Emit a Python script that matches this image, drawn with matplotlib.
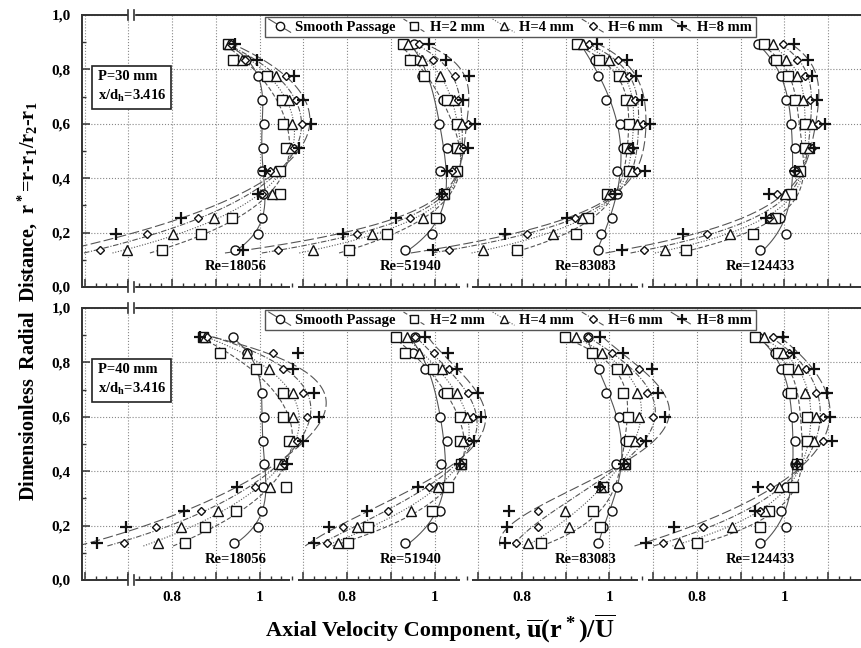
import numpy as np
import matplotlib
matplotlib.use('Agg')
import matplotlib.pyplot as plt
from matplotlib.lines import Line2D
from matplotlib.legend_handler import HandlerLine2D

plt.rcParams['font.family'] = 'Liberation Serif'
plt.rcParams['font.weight'] = 'bold'
plt.rcParams['mathtext.fontset'] = 'custom'
plt.rcParams['mathtext.rm'] = 'Liberation Serif:bold'
plt.rcParams['mathtext.it'] = 'Liberation Serif:bold'
plt.rcParams['mathtext.bf'] = 'Liberation Serif:bold'

# measurement stations (dimensionless radial distance), top to bottom
r_star = [0.892, 0.833, 0.774, 0.687, 0.598, 0.510, 0.425, 0.341, 0.252, 0.195, 0.136]
reynolds = ['Re=18056', 'Re=51940', 'Re=83083', 'Re=124433']
series_names = ['Smooth Passage', 'H=2 mm', 'H=4 mm', 'H=6 mm', 'H=8 mm']

# u(r*)/U, one row per Reynolds number -- rib pitch P=30 mm
p30_smooth = [[0.930, 0.970, 0.997, 1.005, 1.010, 1.008, 1.005, 1.008, 1.005, 0.996, 0.944],
              [0.953, 0.960, 0.972, 1.019, 1.010, 1.028, 1.013, 1.020, 1.013, 0.994, 0.933],
              [0.930, 0.967, 0.974, 0.992, 1.024, 1.031, 1.017, 1.018, 1.005, 0.981, 0.974],
              [0.939, 0.974, 0.992, 1.003, 1.016, 1.024, 1.022, 1.006, 0.990, 1.003, 0.944]]
p30_h2 = [[0.928, 0.940, 1.017, 1.051, 1.054, 1.061, 1.047, 1.047, 0.937, 0.866, 0.777],
          [0.927, 0.944, 0.976, 1.028, 1.052, 1.051, 1.052, 1.022, 1.003, 0.891, 0.805],
          [0.926, 0.976, 1.022, 1.038, 1.045, 1.040, 1.045, 0.994, 0.951, 0.923, 0.789],
          [0.953, 0.981, 1.009, 1.024, 1.047, 1.047, 1.035, 1.016, 0.979, 0.928, 0.775]]
p30_h4 = [[0.930, 0.959, 1.038, 1.067, 1.074, 1.072, 1.035, 1.028, 0.896, 0.803, 0.697],
          [0.940, 0.971, 1.013, 1.044, 1.063, 1.057, 1.048, 1.020, 0.974, 0.857, 0.722],
          [0.939, 0.999, 1.033, 1.049, 1.062, 1.045, 1.052, 0.998, 0.937, 0.870, 0.710],
          [0.974, 1.003, 1.028, 1.042, 1.063, 1.055, 1.030, 1.001, 0.971, 0.876, 0.727]]
p30_h6 = [[0.935, 0.966, 1.061, 1.083, 1.097, 1.078, 1.024, 1.005, 0.860, 0.742, 0.635],
          [0.965, 0.997, 1.047, 1.054, 1.077, 1.066, 1.040, 1.018, 0.944, 0.823, 0.642],
          [0.953, 1.019, 1.045, 1.058, 1.077, 1.050, 1.064, 1.005, 0.921, 0.811, 0.634],
          [0.997, 1.029, 1.047, 1.058, 1.077, 1.062, 1.027, 0.983, 0.965, 0.823, 0.679]]
p30_h8 = [[0.944, 0.994, 1.079, 1.099, 1.118, 1.090, 1.013, 0.996, 0.820, 0.672, 0.570],
          [0.988, 1.026, 1.079, 1.065, 1.092, 1.077, 1.029, 1.016, 0.912, 0.791, 0.562],
          [0.971, 1.040, 1.061, 1.074, 1.092, 1.053, 1.082, 1.012, 0.903, 0.761, 0.597],
          [1.022, 1.053, 1.064, 1.074, 1.093, 1.067, 1.024, 0.965, 0.958, 0.768, 0.629]]

# rib pitch P=40 mm
p40_smooth = [[0.940, 0.971, 0.992, 1.005, 1.010, 1.008, 1.011, 1.008, 1.005, 0.996, 0.942],
              [0.955, 0.950, 0.979, 1.020, 1.012, 1.028, 1.014, 1.010, 1.012, 0.994, 0.933],
              [0.951, 0.960, 0.976, 0.992, 1.022, 1.035, 1.015, 1.017, 1.006, 0.985, 0.974],
              [0.940, 0.979, 0.992, 1.005, 1.019, 1.024, 1.025, 1.003, 0.992, 1.003, 0.944]]
p40_h2 = [[0.871, 0.910, 0.992, 1.054, 1.053, 1.068, 1.045, 1.061, 0.946, 0.875, 0.830],
          [0.912, 0.933, 0.997, 1.028, 1.058, 1.058, 1.060, 1.031, 0.994, 0.848, 0.802],
          [0.898, 0.960, 1.017, 1.031, 1.043, 1.045, 1.035, 0.985, 0.962, 0.978, 0.843],
          [0.933, 0.985, 1.009, 1.016, 1.051, 1.051, 1.028, 1.019, 0.965, 0.944, 0.800]]
p40_h4 = [[0.875, 0.971, 1.022, 1.077, 1.077, 1.077, 1.050, 1.024, 0.906, 0.820, 0.767],
          [0.937, 0.965, 1.017, 1.052, 1.074, 1.066, 1.060, 1.008, 0.946, 0.822, 0.780],
          [0.923, 0.982, 1.040, 1.062, 1.068, 1.058, 1.035, 0.980, 0.898, 0.907, 0.813],
          [0.953, 0.996, 1.031, 1.047, 1.072, 1.067, 1.028, 0.988, 0.955, 0.880, 0.759]]
p40_h6 = [[0.880, 1.030, 1.053, 1.099, 1.108, 1.086, 1.055, 0.990, 0.866, 0.763, 0.690],
          [0.955, 0.999, 1.034, 1.077, 1.088, 1.079, 1.060, 0.987, 0.894, 0.791, 0.754],
          [0.950, 1.005, 1.067, 1.086, 1.099, 1.070, 1.035, 0.978, 0.836, 0.836, 0.786],
          [0.974, 1.010, 1.050, 1.072, 1.087, 1.087, 1.028, 0.967, 0.945, 0.814, 0.722]]
p40_h8 = [[0.864, 1.087, 1.077, 1.125, 1.136, 1.100, 1.063, 0.949, 0.828, 0.695, 0.629],
          [0.978, 1.031, 1.052, 1.099, 1.106, 1.090, 1.058, 0.962, 0.846, 0.759, 0.724],
          [0.978, 1.031, 1.097, 1.111, 1.127, 1.083, 1.033, 0.978, 0.770, 0.766, 0.761],
          [0.997, 1.022, 1.067, 1.097, 1.104, 1.108, 1.028, 0.940, 0.933, 0.748, 0.683]]

# each Reynolds block is shifted 0.4 along the shared x axis
shift = 0.4
x_left, x_right = 0.594, 2.375

markers = ['o', 's', '^', 'D', '+']
msizes = [6.5, 6.5, 6.5, 4.5, 8]
styles = ['-', (0, (4, 2)), (0, (1, 1.5)), (0, (5, 1.5, 1, 1.5)), (0, (9, 3))]
line_col = '#555555'


class SlantHandler(HandlerLine2D):
    # legend key: slanted line with the marker in the middle
    def create_artists(self, legend, orig_handle, xdescent, ydescent,
                       width, height, fontsize, trans):
        x0, x1 = -xdescent, -xdescent + width
        y0, y1 = -ydescent, -ydescent + height
        seg = Line2D([x0, x1], [y1 + 0.15 * height, y0 - 0.15 * height])
        self.update_prop(seg, orig_handle, legend)
        seg.set_marker('None')
        seg.set_transform(trans)
        mk = Line2D([(x0 + x1) / 2], [(y0 + y1) / 2])
        self.update_prop(mk, orig_handle, legend)
        mk.set_linestyle('None')
        mk.set_transform(trans)
        return [seg, mk]


def draw_panel(ax, data, pitch, xlabels):
    yy = np.linspace(0.125, 0.895, 200)
    handles = []
    for s, rows in enumerate(data):
        for k, vals in enumerate(rows):
            off = shift * k
            # smooth least-squares curve x(r*) through each profile
            coef = np.polyfit(r_star, vals, 4)
            ax.plot(np.polyval(coef, yy) + off, yy, color=line_col, lw=0.8,
                    linestyle=styles[s], zorder=2)
            ax.plot(np.array(vals) + off, r_star, linestyle='none', marker=markers[s],
                    ms=msizes[s], mfc='white', mec='#111111', mew=1.6 if s == 4 else 1.0,
                    zorder=3)
        handles.append(Line2D([], [], color=line_col, lw=0.8, linestyle=styles[s],
                              marker=markers[s], ms=msizes[s] - 0.5, mfc='white',
                              mec='#111111', mew=1.6 if s == 4 else 1.0))

    ax.set_xlim(x_left, x_right)
    ax.set_ylim(0, 1.0)

    # spines: left + top, bottom drawn as separate segments per Re block
    for side in ['right', 'bottom']:
        ax.spines[side].set_visible(False)
    for side in ['left', 'top']:
        ax.spines[side].set_linewidth(1.4)
        ax.spines[side].set_color('#333333')
    xt = ax.get_xaxis_transform()
    for a, b in [(x_left, 1.07), (1.088, 1.458), (1.486, 1.865), (1.888, x_right)]:
        ax.plot([a, b], [0, 0], transform=xt, color='#333333', lw=1.4,
                clip_on=False, solid_capstyle='butt', zorder=5)

    # axis-break marks near 0.7
    for yb in [0, 1]:
        ax.fill_between([0.700, 0.712], [yb - 0.02] * 2, [yb + 0.02] * 2,
                        color='white', transform=xt, clip_on=False, zorder=6)
        for xb in [0.700, 0.712]:
            ax.plot([xb, xb], [yb - 0.018, yb + 0.018], transform=xt,
                    color='#333333', lw=1.2, clip_on=False, zorder=7)

    major = np.round(np.arange(0.6, 2.31, 0.1), 2)
    ax.set_xticks(major)
    ax.set_xticks(np.arange(0.6, x_right, 0.025), minor=True)
    labels = []
    for m in major:
        if xlabels and any(abs(m - (0.8 + shift * k)) < 1e-6 for k in range(4)):
            labels.append('0.8')
        elif xlabels and any(abs(m - (1.0 + shift * k)) < 1e-6 for k in range(4)):
            labels.append('1')
        else:
            labels.append('')
    ax.set_xticklabels(labels)
    ax.set_yticks([0, 0.2, 0.4, 0.6, 0.8, 1.0])
    ax.set_yticklabels(['0,0', '0,2', '0,4', '0,6', '0,8', '1,0'])
    ax.set_yticks(np.arange(0.1, 1.0, 0.2), minor=True)
    ax.tick_params(axis='both', which='major', direction='in', length=6, width=1.1,
                   color='#333333', labelsize=11, pad=8)
    ax.tick_params(axis='both', which='minor', direction='in', length=3, width=1.0,
                   color='#333333')
    ax.tick_params(axis='x', top=False, which='both')
    ax.grid(which='major', linestyle=':', color='#888888', lw=0.8)

    for k, lab in enumerate(reynolds):
        ax.text(0.945 + shift * k, 0.075, lab, ha='center', va='center', fontsize=10.5)

    ax.text(0.02, 0.735, 'P=%d mm\nx/d$_h$=3.416' % pitch, transform=ax.transAxes,
            ha='left', va='center', fontsize=10.5, linespacing=1.35,
            bbox=dict(boxstyle='square,pad=0.35', fc='white', ec='#222222', lw=1.2))

    leg = ax.legend(handles, series_names, ncol=5, loc='upper left',
                    bbox_to_anchor=(0.235, 0.993), borderaxespad=0, fontsize=10.5,
                    handlelength=1.5, handletextpad=0.3, columnspacing=0.55,
                    borderpad=0.25, fancybox=False, framealpha=1, edgecolor='#555555',
                    handler_map={Line2D: SlantHandler()})
    leg.get_frame().set_linewidth(1.0)
    leg.set_zorder(10)


fig = plt.figure(figsize=(8.61, 6.48), dpi=100)
ax_top = fig.add_axes([82 / 861, 1 - 287 / 648, 1 - 82 / 861, 272 / 648])
ax_bot = fig.add_axes([82 / 861, 1 - 580 / 648, 1 - 82 / 861, 272 / 648])

draw_panel(ax_top, [p30_smooth, p30_h2, p30_h4, p30_h6, p30_h8], 30, False)
draw_panel(ax_bot, [p40_smooth, p40_h2, p40_h4, p40_h6, p40_h8], 40, True)

fig.text(0.032, 0.535, 'Dimensionless  Radial  Distance,  r$^*$=r-r$_1$/r$_2$-r$_1$',
         rotation=90, ha='center', va='center', fontsize=14.5)
# x label: words and the velocity ratio drawn as two pieces
fig.text(521 / 861, 0.026, 'Axial Velocity Component,', ha='right', va='center',
         fontsize=16)
fig.text(526 / 861, 0.03, r'$\overline{u}(r^*)/\overline{U}$', ha='left', va='center',
         fontsize=19)

fig.savefig('out.png', dpi=100)
